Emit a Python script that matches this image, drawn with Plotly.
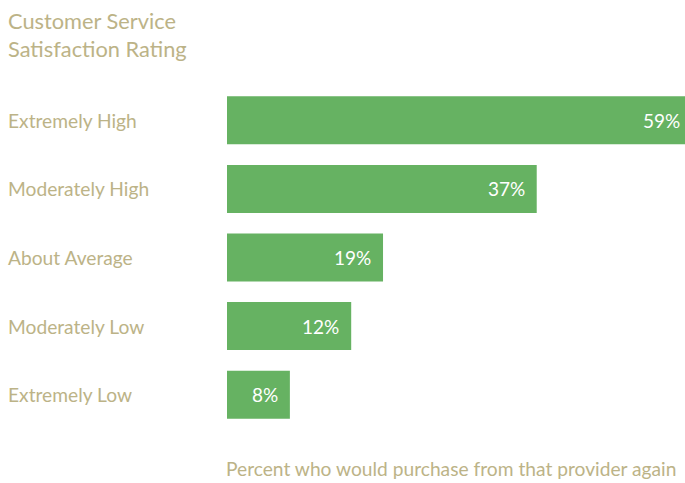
import plotly.graph_objects as go

categories = ["Extremely High", "Moderately High", "About Average", "Moderately Low", "Extremely Low"]
value_labels = ["59%", "37%", "19%", "12%", "8%"]
bar_lengths = [59, 39.9, 20.1, 16.0, 8.1]

GREEN = "#66b262"
KHAKI = "#bcb387"
FONT = "Lato, Open Sans, sans-serif"

fig = go.Figure()
fig.add_trace(go.Bar(
    y=categories, x=bar_lengths, orientation="h",
    marker=dict(color=GREEN, line=dict(width=0)),
    hoverinfo="skip",
))

annotations = []
for cat, v, lab in zip(categories, bar_lengths, value_labels):
    annotations.append(dict(x=v, y=cat, xref="x", yref="y", text=lab, showarrow=False,
                            xanchor="right", yanchor="middle", xshift=-3 if v > 50 else -10,
                            font=dict(family=FONT, size=19, color="white")))
    annotations.append(dict(x=-227 / 458, y=cat, xref="paper", yref="y", text=cat, showarrow=False,
                            xanchor="left", yanchor="middle", xshift=6,
                            font=dict(family=FONT, size=19.2, color=KHAKI)))

annotations.append(dict(x=-227 / 458, y=1, xref="paper", yref="paper", text="Customer Service<br>Satisfaction Rating",
                        showarrow=False, xanchor="left", yanchor="top", align="left", xshift=6, yshift=81,
                        font=dict(family=FONT, size=21.8, color=KHAKI)))
annotations.append(dict(x=1, y=0, xref="paper", yref="paper", text="Percent who would purchase from that provider again",
                        showarrow=False, xanchor="right", yanchor="top", align="right", xshift=-7, yshift=-26,
                        font=dict(family=FONT, size=19.2, color=KHAKI)))

fig.update_layout(
    width=685, height=483,
    margin=dict(l=227, r=0, t=86, b=54),
    paper_bgcolor="white", plot_bgcolor="white",
    showlegend=False, bargap=0.3,
    xaxis=dict(range=[0, 59], visible=False, fixedrange=True),
    yaxis=dict(autorange="reversed", visible=False, fixedrange=True),
    annotations=annotations,
)

fig.write_html("out.html", config={"displayModeBar": False})
